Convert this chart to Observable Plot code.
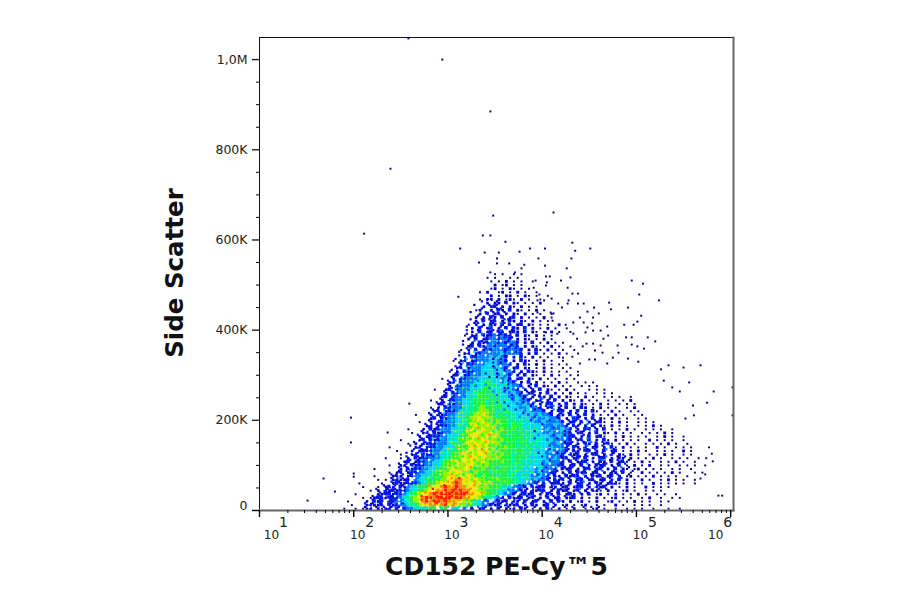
<!DOCTYPE html>
<html><head><meta charset="utf-8">
<script src="https://cdn.jsdelivr.net/npm/d3@7"></script>
<script src="https://cdn.jsdelivr.net/npm/@observablehq/plot@0.6"></script>
<style>html,body{margin:0;padding:0;background:#fff}svg{display:block}</style>
</head><body><div id="chart"></div>
<script>
const xTitle = "CD152 PE-Cy™5";
const yTitle = "Side Scatter";
const xMajor = [1e1, 1e2, 1e3, 1e4, 1e5, 1e6];
const xExp = ["1", "2", "3", "4", "5", "6"];
const yMajor = [200, 400, 600, 800, 1000];
const yLabels = ["200K", "400K", "600K", "800K", "1,0M"];
const yZero = [0];
const yMinor = [50,100,150,250,300,350,450,500,550,650,700,750,850,900,950];
// density rows: each row covers 8K of side scatter, each character 0.04 decade; "|" only aids reading
const rowStart = [-3,-3,-2,-1,-1,-1,0,1,2,3,4,4,5,6,6,7,7,8,8,9,9,10,11,12,13,13,14,15,16,17,18,19,19,20,21,22,22,23,24,24,25,25,26,26,27,27,28,28,29,29,29,30,30,31,31,32,32,32,33,33,33,34,34,35,35,36];
const rowLevels = [
".  . .|11 1.12 |2 2|334545|66 56 44| 3 2 |12 1 2 1.1 21 . 1 2. 1 . 1  . .1 .  .  . . .  .   .  .",
"  .   |12112 21|233|456|78|89989a89|87766|543|3212 2112 1 21 12 1 |.1 . .1  . .  1 .  . . .  .",
".    |1 212 22|33|45|678|9a9aa9a9|988|776|543|3 3212 21 2 12 1 2 21 1 |.1 . 1  .1 . . 1 . .  . .",
"   . .|122122|23|45|67|8|9|aa9aaaa9aa|99|88|765|54|32 2122 12 1 2 12 112 1 |. 1 . .1 . .  . 1  .  . .",
" .     |112212|23|4|56|78|89|a9aaa9aaa|99|88|7665|54|33|2 2212 1 21 2 121 1 2 |.1 . 1 . . 1 .  . .  .",
"     . |1 21212|23|456|678|899a9a9a99|88|77|6665|44|333|21 2122 1 212 12 1 21|. 1 . .1 .  . . .",
"  .   . |121 21|3|44|566|788|9a99a99|888|777|6665|54|333|2 2122 21 12 122 1 21|2 1 . 1 .  1 . . .",
".     .  |121122|23|4566|788|89a98|8878|7776|66665|544|33|2 2 1221 2 12 1 21 122|. 1 . .  1 . . . .  .",
"    . . |12112 |3|44|56667|78|8998|87877|66676665|5444|3433|2 212 1 22 12 12 1 2 |1 . 1 .  . 1 . .  .",
"  .    |121 12|33|44|566|678|878|787|6676665665|54544|3343|2 21 2122 1 212 12 1 |.1 . . 1 . . .  .",
"     . |12 12|233|44|566|7878877|676665666655|54445|3433|22 1 2 212 12 1 21 2 |.  1 . . . 1 .   . .",
" .      |1 212|23|344|566|787788|766766656655|55444|34333|2 212 1 22 12 1 2 1|. .1 . . .  . .  .",
"    .  |11 212|23|34|456|67877887|76766656655|54544|43333|22 12 2 1 212 1 2 |. 1 . 1  . .  . . .",
"       |12 12|233|44|566|787878778|766676656|554544|34333|2 2 122 1 21 2 12|. . 1 .  . . 1 .  .",
"  .   . |1 212|233|34|556|6787887877|77666566|55444|43343|22 12 2 1 22 1 21| 1 . . 1 .  . . .  . .",
"     .  |12 21|23|344|566|7878788777|6766566|55454|43333|2 212 1 22 1 2 1|. 1 .  . . 1 .  . .",
"    .   |1 122|233|44|556|6788787877|76665665|55444|34333|2 21 22 1 2 12 |. . 1 .  . . .  1 .",
" .      |12 12|23|344|456|678787877|667665656|54544|4333|2 21 2 12 1 2|. 1 . . .  1 .  . . .",
"      . |1 212|233|34|556|787887877|766665665|55444|3343|22 1 21 2 12|. . 1 .  . . . 1 .  .",
"   .    |12 21|23|344|566|78778877|67666566|54554|343333|2 12 2 1 2|. 1 . . .  1 . . .  .",
"        |1 122|233|44|556|78877878|76656665|55444|433433|22 1 2 12|.  . 1 . . .  . 1 .  .",
"     .  |12 21|23|34|556|77887787|7666566|54544|3343333|2 12 1 2 1|. 1 . .  . . . 1 .",
"   .   |1 212|33|344|56|78778777|6766656|55454|3433343|2 1 22 1 2| . . 1 .  . . .  .",
"       |12 12|23|34|556|787787|7666566|54544|4333433|2 21 1 2 1|. 1 . .  . . 1 .",
"    .  |1 22|33|344|56|777877|676656|55444|3343333|2 12 2 1 12|. . 1 .  . . .",
"       |12 21|33|44|56|778777|66665|54544|3433433|2 1 22 1 2 1|. 1 . .  . .",
"  .   |1 212|33|44|556|7787|66565|55444|343433|2 21 2 1 2 1| . . 1 .  . .",
"      |12 12|23|44|556|777|66656|5444|34333|2 1 22 1 2 1 2|. . 1 .  . .",
"    . |1 22|33|34|556|77|66565|5444|33433|2 12 1 2 1 21 |. 1 . .  . 1",
"     |12 21|33|44|56665666|5444|3343|2 1 22 1 2 1 1|. . 1 .  . . .",
"  .  |1 22|33|44|56665656|454|3433|2 12 1 2 1 1|. 1 . .  . . . 1",
"    |12 2|333|44|566656|544|3343|2 1 21 2 1 1|. . 1 .  . . .  .",
"     |1 22|33|44|56656|4544|343|2 12 1 2 1 |. 1 . .  . . .",
" .  |12 2|333|44|5665|454|343|2 1 1 2 1|. . 1 .   . . .",
"    |1 22|334|34|5656|445|433|2 1 2 1|. 1 . .  . . .",
"   |12 2|333|44|56|544|343|2 1 2 1| . . 1 .  . . .",
" .  |1 22|333|44454|434|2 12 1|. 1 . .  . .",
"   |12 1|233|34454|343|2 1 2 1|. . 1 .  . .",
" . |1 22|233|44544|433|2 1 21|. 1 . . .  .",
"   |12 1|333|444|343|2 12 1|. . 1 .  . .",
"   |1 22|333|444|333|2 1 2|. 1 . . . .",
" . |12 12|33|344|33|2 1 21|. . 1 .  .",
"   |1 22|333|4|343|2 1 2|. 1 . .  .",
"   |12 12|3333343333|2 1 2| . . 1 .  .",
" . |1 2 1|323332333|2 1 2|. 1 . .  .",
"   |12 21|33233323|2 1 1|. . 1 .  .",
"   |1 212|3323233|2 1 2| . 1 . .",
"  |1 2 1|233233|2 1 1|. . 1 .",
". |12 21|23232|2 2 1|. 1 . .",
"  |1 2 1|2 22 12|1 2 1|. . 1 .  .",
"  |1 2 1|2 1 2 2|1 2 1 |. 1 .  .",
". |1 1 2|1 2 2 1|2 1|. . .  1",
"  |1 2 1|2 1 2|1 1|. 1 . .",
" |1 1 2|1 2 1|2 1 |. . 1 .",
"  |1 2 1|2 1 1|. 1 . .  .",
".|1  1 2|1 2 1|. . 1 .",
"  |1 1|2 1 1|. 1 . .",
"   |1 1|1 2 1|. . . 1",
". |1|1 1 .1|. 1 .  .",
"   |1 . 1|1 . 1|. .  .",
". |1  .1| . 1 .  .",
"  .|1 . 1|. . .",
"   |1 .|1 . .",
" . |. 1 . .  .",
". .   . .",
" . .  . ."
].map(s => s.replaceAll("|", ""));
// second, half-step-offset layer of finer grains; "o" is a white gap
const grainStart = [3,3,3,5,6,6,8,9,10,10,11,12,12,13,14,14,15,15,16,17,17,18,18,19,20,20,20,21,22,22,23,23,24,24,25,25,26,26,26,27,27,27,28,28,28,29,29,29,30,30,30,30,31,31,31,32,32,33];
const grainLevels = [
"1o 1 2o1 2 3 o4 5 6 5 6 o5 4 o3 2 o 1 2o 1 2 1o 2 1o 1 2 o1 2 1",
"2o1 2o 1|3o2|4 5|6 |9 8a 9 8|9 7 8| 4 |o 2 1o 2 o1 2 o 1 2 o",
"o 2 1 o2|2o|3 |5 7|a 8 9 a |8 9| 6 |4 o|2 o1 2 o 1 2o 1 o2 1",
"1 2o 1|o3| 5|7 | |a| 9 a 8 a 9 |8 | 7|6 5| 3|o 2 o1 2 1o 2 1 o2 1 o",
"o2 1 2|3o| |6 |8 |9 | a 8 a 9 a|8 | 9|7 6 | 3|o |1o2 1 o2 1 2o 1 o2 1o",
"2 o1 2 |o3| 5 |6 8|a 8 9 a 9 |9 | 6|7 6 |5 |3 o|2 1o 2 o 1 2 1o 3 1 o2 1",
"1 o2 1|o| 5|7 6|9 8| a 8 9 |7 9| 6 |5 7 |4 |o 2|1 2o 1 o3 1 2o 2 1 o2 1",
"o2 1 2o| 3|5 6 |8 7|9 a 8|7 9 |6 8 |5 7 6 |4 o|o2|1 o2 1o 2 1 3o 1 2 1o",
"1o 2 o|o|3 |6 4 5|7 |9 a |7 8 6|5 7 6 o 6|4 6 |o 2 |1 o2 1o 2 1 o 2 1o 2 ",
"2 o1 2|o3|5 |4 6|8 7|9 7|6 8|7 5 6 o 5 7 |4 6 o|2 o3|1o 2 1 o3 1 2o 1 2 o1",
"o1 2|3 o|3 |5 7|8 6 8 7 |5 7 6 o 6 5 7 |6 4 o|2 o |1 o2 1 2o 1 3 o1 2 o1",
"2 1o |3 |5 o|6 7|8 6 7 9|5 7 6 5 7 o 6 |4 o 6|2 o4 |1 2o 1 o2 1 o2 3 1",
"1o2 1 |o3|5 |4 7|8 6 7 8 |5 7 o 6 5 7 |6 4 o|2 o 3|1 o2 1 3o 1 2 o1 2",
"o 2 1|4 o|3 |5 7|8 6 8 6 7|5 7 6 o 5 |4 6 o 4|2 3o |1 2o 1 o 3 1 2 o1",
"2o 1 |4 2|5 |6 7|8 6 9 7 8 |5 7 o 6 |6 4 o|2 o3 |1 o2 1 2o 1 3 o1 2",
"1 o2|3 o|5 7|5 6|7 8 6 8 9 |5 7 6 o|4 6 o|2 3 o|1 2o 1 o3 1 2 o1",
"o2 1 |o4 |3 |7 6|8 6 7 9 6 |5 7 o 6 5|6 4 o|2 o4 |1 o2 1 2o 3 1 ",
"2 o1 |3 |5 o|4 7|8 6 9 7 6|5 7 6 o 5 |4 6 o|2 3 |o2 1 o3 1 2o",
"1 o2 |o4 |3 |7 5|6 8 7 9 8|7 5 o 6 5 |4 o 6|3 o|1 2 o1 3 o1 ",
"o2 1|4 |5 o|6 7|8 6 9 7|5 7 6 o|6 4 o|2 o 4 |1 o2 1 o3",
"2 o1 |3 o|5 |4 7|6 8 6 9|7 5 o 6|4 6 o|3 o 2 4|1 2o 1 ",
"1o 2 |4 |3 |7 5|8 6 8 7|5 7 o |6 4 o|2 o 3 o4|1 o2 1o 3",
"o 1 2|o4 |5 o|4 |6 9 7 8|5 6 7 o |4 6 o|3 2 o 4 |1o 3 1",
"2o 1 |3 |5 |7 4|8 6 7 |5 7 o 6|6 4 |o 2 3 4 o|1 o2 3 1",
"1 o |4 |5 o|7 |6 8 6|5 7 o |4 o 6|2 3o 2 4 |o1 2 o3 1",
"o2 1|3 |5 |7 |6 8 |7 o 5|6 4 o|3 o 2 4 3 |1 o 3 1",
"2 o1|4 |3 |7 5|6 8|7 o 5|4 6 |o 2 4 o|3 1 o2 1 2o",
"1 o|3 |5 o|6 |6 |5 o 7|4 3 |o2 4 o|1 2 o3 1",
"o 2|4 |3 |7 5| 6|7 o 5|6 |2 o 4 |1 o 2 3 1",
"2 1|o|5 |6 o 5 7 |4 3 |2 o 4|1 o3 1 2 o",
"1 o2|3 |5 |6 o 7 5|4 |o 2 4|1 2 o3 1 ",
"o1 |4 o|3 |5 7 o 6|3 |o 2 |1 3 1 o",
"1 2|o4 |5 |7 o 6|3 o|2 |o 3 1 2",
"o 2|4 |6 |5 o 6|3 |o 2|1 o 3 1",
"1 o|4 |3 |6 o|3 5 |o |1 3 o 1",
"2o|3 |5 |6 |3 o |4 |o 1 3",
"1 |o4|3 5 o|o2 |1 3 o",
"o2|4 |3 o 5|2 o|1 o 3 1",
"1 |o 4|5 3 o|o |2 1 o",
"2 o|3 |5 o|4 |1 o 3",
"o1|4 |3 o|o 4|2 1 o",
"1 |o4 |5 |3 o|1 2 o",
"2 o|3 |4 o|o |3 1",
"1 o| 4 3 o 4 2 o|1 o",
"o 2|3 o 2 4 o |2 1",
"2 1| 2 o 4 3 o|1 o",
"1 o|3 2 o 4|o 1",
"o 2|1 o 3 o |2 1",
"1 |o 3 2 o|1 o",
"2 o|1 o 2 3|o 1",
"1 |o 2 3 o|1 ",
"o 1|2 o 1 3|2 o",
"1 o|2 1 o 2|1 ",
"o |1 o 2 1| o",
"1 |o 2 1 o|1",
"o |2 o 1|2",
"1 |o 1 2 o",
" 2| o 1"
].map(s => s.replaceAll("|", ""));
const dotLog = [2.58,2.94,3.45,2.39,2.11,3.48,4.12,3.13,3.37,3.45,3.61,3.76,3.87,4.03,4.32,4.35,4.51,3.33,3.52,3.52,3.65,3.39,3.54,3.96,4.31,4.26,4.03,3.81,3.78,3.71,3.45,3.11,4.95,5.07,5.03,5.24,4.91,4.73,4.71,5.05,5.01,4.87,4.97,4.69,5.12,5.20,4.89,4.95,4.80,4.95,5.01,5.08,4.81,4.91,5.02,5.34,5.50,5.68,5.26,5.56,5.29,5.82,6.02,5.38,5.46,5.75,5.60,6.02,5.61,5.52,5.87,5.91,5.77,5.81,5.80,5.73,5.73,5.68,1.97,1.97,2.36,2.59,1.80,2.00,2.00,1.51,1.68,3.93,4.04,4.08,4.05,4.04,4.20,4.30,4.27,3.91,3.97,4.32,4.38,4.10,3.95,4.02,4.28,4.17,4.38,4.44,4.21,4.27,4.55,4.48,4.60,4.09,4.12,3.95,4.02,4.11,4.33,4.40,4.54,4.44,4.53,4.25,4.48,4.62,4.54,4.70,4.04,4.16,4.33,4.46,4.37,4.65,4.54,4.47,4.62,4.64,4.56,4.43,4.75,4.69,4.56,4.50,4.40,4.32,4.22];
const dotK = [1047,1000,885,758,614,654,661,581,610,610,596,574,581,581,594,576,581,550,559,548,548,572,572,559,559,537,543,545,537,528,528,474,510,503,479,466,450,446,461,432,419,412,412,408,384,375,384,384,366,368,364,359,350,337,330,322,317,322,313,284,288,264,273,273,264,239,233,211,211,204,33,33,140,109,126,100,80,71,206,151,173,237,42,82,75,22,71,510,519,519,506,499,510,517,494,494,479,481,481,470,466,466,466,459,459,459,450,459,450,441,437,439,437,439,426,421,417,428,428,417,415,412,406,399,399,388,395,392,392,395,381,381,370,370,366,350,355,364,339,326,335,335,326,341,339];
const levels = ["o","1","2","3","4","5","6","7","8","9","a"];
const levelColors = ["#ffffff","#0000c8","#0018f0","#0078ff","#00d8f0","#00f0a0","#20f040","#90f000","#f0e800","#ff8800","#ff1c00"];
const navy = "#000090";

const cells = [], specks = [], blues = [], grains = [];
rowLevels.forEach((s, k) => {
  [...s].forEach((ch, i) => {
    if (ch === " ") return;
    const c = rowStart[k] + i;
    const mid = {x: 10 ** (2 + 0.04 * c + 0.02), y: 8 * k + 4};
    if (ch === ".") specks.push(mid);
    else if (ch === "1") blues.push(mid);
    else cells.push({x1: 10 ** (2 + 0.04 * c), x2: 10 ** (2 + 0.04 * (c + 1)), y1: 8 * k, y2: 8 * k + 8, v: ch});
  });
});
const isWarm = (k, c) => "456789a".includes(rowLevels[k]?.[c - rowStart[k]] ?? " ");
grainLevels.forEach((s, k) => {
  [...s].forEach((ch, i) => {
    const c = grainStart[k] + i;
    if (ch === " " || (ch === "o" && isWarm(k, c))) return;
    grains.push({x: 10 ** (2 + 0.04 * c), y: 8 * k + 8, v: ch});
  });
});
const sparse = dotLog.map((l, i) => ({x: 10 ** l, y: dotK[i]}));
const xMinor = [];
for (const m of xMajor) for (let j = 2; j < 10; j++) if (m * j <= 1e6) xMinor.push(m * j);

const font = "'DejaVu Sans'";
function expLabels(ticks, dx) {
  return [
    Plot.axisX({ticks, tickSize: 0, tickPadding: 20, tickFormat: () => "10", dx, anchor: "bottom", fontSize: 12, label: null, fontFamily: font, color: "#222"}),
    Plot.axisX({ticks, tickSize: 0, tickPadding: 7, tickFormat: d => xExp[xMajor.indexOf(d)], dx: dx + 12, anchor: "bottom", fontSize: 14, label: null, fontFamily: font, color: "#222"})
  ];
}
const plot = Plot.plot({
  width: 900, height: 594,
  marginLeft: 259, marginRight: 167, marginTop: 37, marginBottom: 84,
  style: {background: "#fff", fontFamily: font},
  x: {type: "log", domain: [10, 10 ** 6.03]},
  y: {type: "linear", domain: [0, 1049]},
  color: {type: "ordinal", domain: levels, range: levelColors},
  marks: [
    Plot.rect(cells, {x1: "x1", x2: "x2", y1: "y1", y2: "y2", fill: "v"}),
    Plot.dot(blues, {x: "x", y: "y", symbol: "square", r: 1.6, fill: "#0000c8"}),
    Plot.dot(grains, {x: "x", y: "y", symbol: "square", r: 1.25, fill: "v"}),
    Plot.dot(specks, {x: "x", y: "y", symbol: "square", r: 1.1, fill: navy}),
    Plot.dot(sparse, {x: "x", y: "y", symbol: "square", r: 1.1, fill: navy}),
    Plot.frame({anchor: "top", stroke: "#111"}),
    Plot.frame({anchor: "left", stroke: "#111"}),
    Plot.frame({anchor: "right", stroke: "#666", strokeWidth: 2}),
    Plot.frame({anchor: "bottom", stroke: "#666", strokeWidth: 2}),
    Plot.axisY({ticks: yMajor, tickSize: 7, tickPadding: 5, tickFormat: d => yLabels[yMajor.indexOf(d)], anchor: "left", fontSize: 12.5, label: null, fontFamily: font, color: "#222", strokeWidth: 1.4}),
    Plot.axisY({ticks: yZero, tickSize: 7, tickFormat: null, text: null, anchor: "left", label: null, strokeWidth: 1.4}),
    Plot.axisY({ticks: yZero, tickSize: 0, tickPadding: 12, dy: -5, tickFormat: () => "0", anchor: "left", fontSize: 12.5, label: null, fontFamily: font, color: "#222"}),
    Plot.axisY({ticks: yMinor, tickSize: 3, tickFormat: null, anchor: "left", label: null, text: null}),
    Plot.axisX({ticks: xMajor, tickSize: 7, tickFormat: null, text: null, anchor: "bottom", label: null, strokeWidth: 1.4}),
    Plot.axisX({ticks: xMinor, tickSize: 3, tickFormat: null, text: null, anchor: "bottom", label: null}),
    ...expLabels([1e1], 12),
    ...expLabels([1e2, 1e3, 1e4, 1e5], 4),
    ...expLabels([1e6], -15),
    Plot.text([xTitle], {frameAnchor: "bottom", dy: 56, text: d => d, fontSize: 25, fontWeight: "bold", fontFamily: font, lineAnchor: "middle", fill: "#111"}),
    Plot.text([yTitle], {frameAnchor: "left", dx: -84, dy: -1, rotate: -90, text: d => d, fontSize: 24.5, fontWeight: "bold", fontFamily: font, lineAnchor: "middle", textAnchor: "middle", fill: "#111"})
  ]
});
document.getElementById("chart").append(plot);
</script>
</body></html>
